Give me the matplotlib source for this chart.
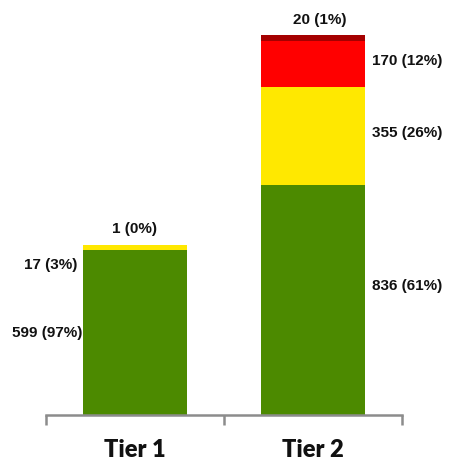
import matplotlib.pyplot as plt
import numpy as np

# values
tiers = ["Tier 1", "Tier 2"]
green = [599, 836]
yellow = [17, 355]
red = [1, 170]
dark_red = [0, 20]
pct_green = [97, 61]
pct_yellow = [3, 26]
pct_red = [0, 12]
pct_dark = [0, 1]

colors = {"green": "#4C8A00", "yellow": "#FFE800", "red": "#FF0000", "dark": "#A50000"}

fig = plt.figure(figsize=(4.49, 4.65), dpi=100)
ax = fig.add_axes([46 / 449, 1 - 415 / 465, 356 / 449, 380 / 465])

x = np.arange(len(tiers))
w = 0.584
g = np.array(green)
y = np.array(yellow)
r = np.array(red)
d = np.array(dark_red)

ax.bar(x, g, w, color=colors["green"])
ax.bar(x, y, w, bottom=g, color=colors["yellow"])
ax.bar(x, r, w, bottom=g + y, color=colors["red"])
ax.bar(x, d, w, bottom=g + y + r, color=colors["dark"])

ax.set_xlim(-0.5, 1.5)
ax.set_ylim(0, (g + y + r + d).max())

lab = dict(fontsize=11, fontweight="bold", family="Liberation Sans", color="#111111")

# Tier 1: labels on the left, top one above
ax.text(-w / 2 - 0.005, g[0] / 2, f"{green[0]} ({pct_green[0]}%)", ha="right", va="center", **lab)
ax.text(-w / 2 - 0.03, g[0] - 55, f"{yellow[0]} ({pct_yellow[0]}%)", ha="right", va="center", **lab)
ax.text(0, g[0] + y[0] + r[0] + 60, f"{red[0]} ({pct_red[0]}%)", ha="center", va="center", **lab)

# Tier 2: labels on the right, top one above
ax.text(1 + w / 2 + 0.04, g[1] / 2 + 50, f"{green[1]} ({pct_green[1]}%)", ha="left", va="center", **lab)
ax.text(1 + w / 2 + 0.04, g[1] + y[1] / 2 + 10, f"{yellow[1]} ({pct_yellow[1]}%)", ha="left", va="center", **lab)
ax.text(1 + w / 2 + 0.04, g[1] + y[1] + r[1] / 2 + 10, f"{red[1]} ({pct_red[1]}%)", ha="left", va="center", **lab)
ax.text(1.04, g[1] + y[1] + r[1] + d[1] + 55, f"{dark_red[1]} ({pct_dark[1]}%)", ha="center", va="center",
        clip_on=False, **lab)

for s in ["top", "right", "left"]:
    ax.spines[s].set_visible(False)
ax.spines["bottom"].set_color("#8C8C8C")
ax.spines["bottom"].set_linewidth(1.8)
ax.set_yticks([])

ax.set_xticks([-0.5, 0.5, 1.5])
ax.set_xticklabels([])
ax.tick_params(axis="x", which="major", length=7, width=1.8, color="#8C8C8C", direction="out")
ax.set_xticks(x, minor=True)
ax.set_xticklabels(tiers, minor=True, fontsize=17, fontweight="heavy", family="Lato", color="#111111")
ax.tick_params(axis="x", which="minor", length=0, pad=17)

fig.savefig("out.png", dpi=100)
